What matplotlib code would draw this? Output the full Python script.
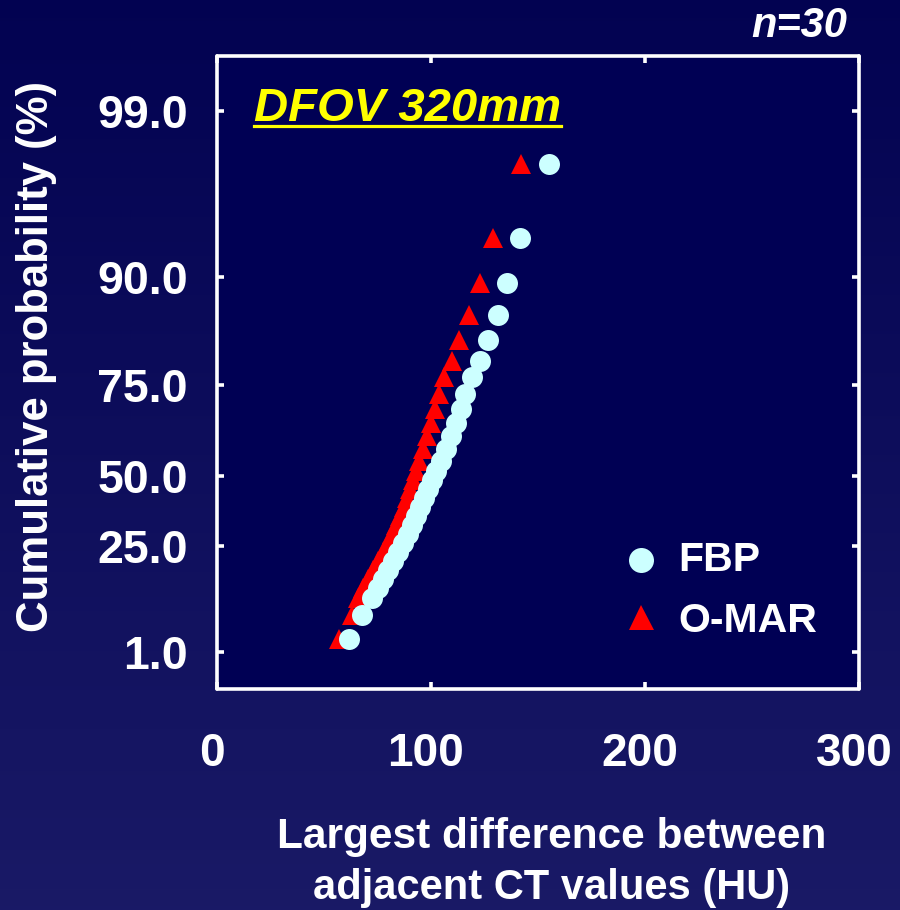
import numpy as np
import matplotlib
matplotlib.use("Agg")
import matplotlib.pyplot as plt
import matplotlib.transforms as mtransforms
from matplotlib.lines import Line2D

plt.rcParams['font.family'] = ['Liberation Sans', 'DejaVu Sans']
plt.rcParams['font.weight'] = 'bold'

# cumulative probability (%) of each rank (n=30), same for both methods
cum_prob = [3.9, 9.4, 13.2, 15.5, 17.5, 19.6, 21.6, 23.6, 26.1, 29.3,
            32.5, 35.7, 38.9, 42.1, 45.4, 48.6, 51.4, 54.1, 57.4, 61.0,
            64.6, 68.4, 72.5, 76.1, 78.3, 81.3, 84.7, 89.2, 92.1, 96.1]

# largest difference between adjacent CT values (HU), sorted
fbp_hu = [61.8, 67.8, 72.4, 75.2, 77.6, 79.9, 82.2, 84.6, 86.9, 89.3,
          91.1, 93.0, 94.9, 96.7, 98.6, 100.5, 102.3, 104.7, 107.0, 109.3,
          111.7, 114.0, 115.9, 119.2, 122.9, 126.6, 131.3, 135.5, 141.6, 155.1]
omar_hu = [57.0, 63.1, 65.9, 68.2, 70.6, 72.9, 75.2, 77.6, 79.9, 81.8,
           83.6, 85.5, 87.4, 88.8, 90.2, 91.6, 93.0, 94.4, 96.3, 98.1,
           100.0, 101.9, 103.7, 106.1, 109.8, 113.1, 117.8, 122.9, 129.0, 142.1]

y_ticks = [1.0, 25.0, 50.0, 75.0, 90.0, 99.0]
x_ticks = [0, 100, 200, 300]

# probability axis is stretched piecewise between the graded marks
scale_pct = [0, 1, 25, 50, 75, 90, 99, 100]
scale_pos = [0, 37, 143, 213, 304, 412, 578, 633]


def prob_fwd(p):
    return np.interp(p, scale_pct, scale_pos)


def prob_inv(v):
    return np.interp(v, scale_pos, scale_pct)


W, H = 900, 910
fig = plt.figure(figsize=(W / 100, H / 100), dpi=100)

# dark blue slide background
bg = fig.add_axes([0, 0, 1, 1], zorder=-10)
grad = np.linspace(0, 1, 256)[:, None]
top_c = np.array([0.01, 0.01, 0.32])
bot_c = np.array([0.10, 0.10, 0.40])
img = top_c[None, None, :] * (1 - grad[:, :, None]) + bot_c[None, None, :] * grad[:, :, None]
bg.imshow(np.repeat(img, 2, axis=1), aspect='auto', extent=[0, 1, 0, 1])
bg.axis('off')


def px(x0, y0, x1, y1):
    return [x0 / W, 1 - y1 / H, (x1 - x0) / W, (y1 - y0) / H]


ax = fig.add_axes(px(217, 56, 859, 689))
ax.set_facecolor((0.0, 0.0, 0.33))

ax.plot(omar_hu, cum_prob, linestyle='none', marker='^', markersize=15.1,
        color='#ff0000', markeredgewidth=0, zorder=3)
ax.plot(fbp_hu, cum_prob, linestyle='none', marker='o', markersize=15.1,
        color='#ccffff', markeredgewidth=0, zorder=4)

ax.set_xlim(0, 300)
ax.set_yscale('function', functions=(prob_fwd, prob_inv))
ax.set_ylim(0, 100)
ax.set_xticks(x_ticks)
ax.set_xticklabels([str(v) for v in x_ticks])
ax.set_yticks(y_ticks)
ax.set_yticklabels([f"{v:.1f}" for v in y_ticks])
ax.minorticks_off()

for s in ax.spines.values():
    s.set_color('white')
    s.set_linewidth(2.6)
    s.set_capstyle('round')
    s.set_joinstyle('round')

ax.tick_params(axis='both', direction='in', length=5, width=2.6, colors='white',
               top=True, right=True)
ax.tick_params(axis='x', pad=31, labelsize=33)
ax.tick_params(axis='y', pad=21, labelsize=33.5)

# x labels sit a little left of their ticks
shift = mtransforms.ScaledTranslation(-5 / 100, 0, fig.dpi_scale_trans)
for lab in ax.get_xticklabels():
    lab.set_transform(lab.get_transform() + shift)

# legend drawn in axes fraction
ax.plot([0.660], [0.204], transform=ax.transAxes, marker='o', markersize=18,
        color='#ccffff', markeredgewidth=0, linestyle='none', clip_on=False)
ax.plot([0.660], [0.114], transform=ax.transAxes, marker='^', markersize=18,
        color='#ff0000', markeredgewidth=0, linestyle='none', clip_on=False)
ax.text(0.718, 0.204, "FBP", transform=ax.transAxes, color='white', fontsize=29.5,
        ha='left', va='center')
ax.text(0.718, 0.107, "O-MAR", transform=ax.transAxes, color='white', fontsize=29.5,
        ha='left', va='center')

fig.text(37 / W, 1 - 357 / H, "Cumulative probability (%)", rotation=90,
         color='white', fontsize=31.5, ha='center', va='center')
fig.text(552 / W, 1 - 848 / H, "Largest difference between", color='white',
         fontsize=30.5, ha='center', va='baseline')
fig.text(552 / W, 1 - 899 / H, "adjacent CT values (HU)", color='white',
         fontsize=30, ha='center', va='baseline')

fig.text(847 / W, 1 - 37 / H, "n=30", color='white', fontsize=30,
         style='italic', ha='right', va='baseline')

title = fig.text(254 / W, 1 - 121 / H, "DFOV 320mm", color='#ffff00', fontsize=34,
                 style='italic', ha='left', va='baseline')

# underline under the title
fig.canvas.draw()
bb = title.get_window_extent()
uy = 1 - 125.5 / H
fig.add_artist(Line2D([bb.x0 / W, bb.x1 / W], [uy, uy], color='#ffff00',
                      linewidth=2.3, transform=fig.transFigure))

fig.savefig("out.png", dpi=100, facecolor=fig.get_facecolor())
